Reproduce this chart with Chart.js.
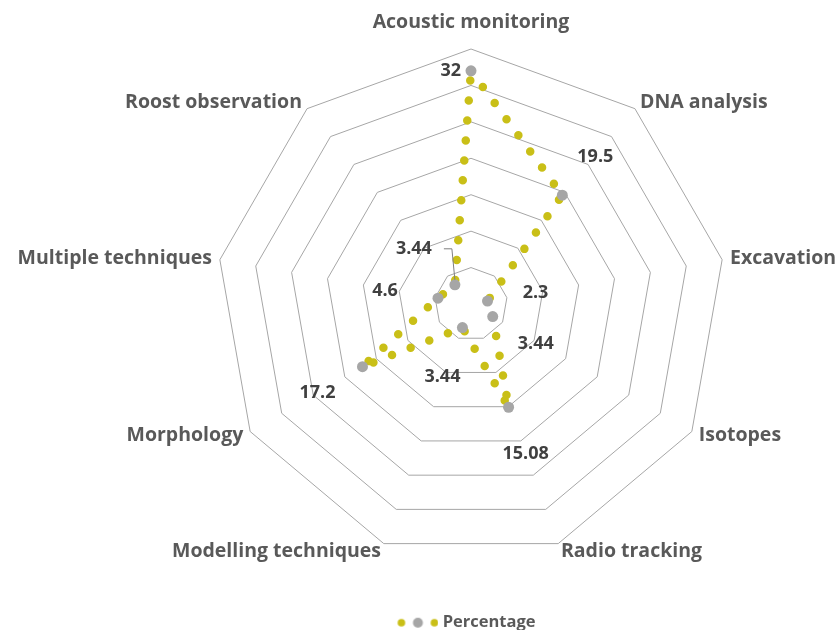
<!DOCTYPE html>
<html>
<head>
<meta charset="utf-8">
<script src="https://cdn.jsdelivr.net/npm/chart.js@4"></script>
<style>
  html, body { margin: 0; padding: 0; background: #fff; }
  #wrap { width: 839px; height: 630px; }
</style>
</head>
<body>
<div id="wrap"><canvas id="methodsChart"></canvas></div>
<script>
var categories = ['Acoustic monitoring', 'DNA analysis', 'Excavation', 'Isotopes', 'Radio tracking',
                  'Modelling techniques', 'Morphology', 'Multiple techniques', 'Roost observation'];
var percentage = [32, 19.5, 2.3, 3.44, 15.08, 3.44, 17.2, 4.6, 3.44];
var valueLabels = ['32', '19.5', '2.3', '3.44', '15.08', '3.44', '17.2', '4.6', '3.44'];

var lineColor = '#C9BF17';
var pointColor = '#A6A6A6';
var fontFamily = '"Open Sans", "Liberation Sans", sans-serif';

// radar placement (Excel puts the plot off-centre)
var radarCenter = { x: 471, y: 304 };
var radarRadius = 255;

// where each value label sits relative to its point
var labelOffsets = [[-10, 0], [33, -38], [48, -8], [43, 27], [17, 47], [-20, 49], [-45, 26], [-53, -7], [-41, -36]];

// legend marker: dot, grey dot, dot
var marker = document.createElement('canvas');
marker.width = 42; marker.height = 12;
var mctx = marker.getContext('2d');
[[5, lineColor, 3.8], [21.5, pointColor, 5], [38, lineColor, 3.8]].forEach(function (d) {
    mctx.fillStyle = d[1];
    mctx.beginPath();
    mctx.arc(d[0], 6, d[2], 0, Math.PI * 2);
    mctx.fill();
});

var radarPlacement = {
    id: 'radarPlacement',
    afterLayout: function (chart) {
        var r = chart.scales.r;
        r.xCenter = radarCenter.x;
        r.yCenter = radarCenter.y;
        r.drawingArea = radarRadius;
    }
};

var labelsPlugin = {
    id: 'labelsPlugin',
    afterDatasetsDraw: function (chart) {
        var ctx = chart.ctx;
        var scale = chart.scales.r;
        var meta = chart.getDatasetMeta(0);
        ctx.save();

        // category labels round the outside
        ctx.font = 'bold 19.5px ' + fontFamily;
        ctx.fillStyle = '#595959';
        ctx.textBaseline = 'middle';
        categories.forEach(function (name, i) {
            var p = scale.getPointPosition(i, scale.drawingArea + 8);
            if (i === 0) {
                ctx.textAlign = 'center';
                ctx.fillText(name, p.x, p.y - 19);
            } else {
                ctx.textAlign = i <= 4 ? 'left' : 'right';
                ctx.fillText(name, p.x, p.y);
            }
        });

        // value labels
        ctx.font = 'bold 18px ' + fontFamily;
        ctx.fillStyle = '#404040';
        meta.data.forEach(function (pt, i) {
            var off = labelOffsets[i];
            var tx = pt.x + off[0], ty = pt.y + off[1];
            ctx.textAlign = i === 0 ? 'right' : 'center';
            ctx.fillText(valueLabels[i], tx, ty);
            if (i === 8) {
                // leader line
                ctx.strokeStyle = '#7F7F7F';
                ctx.lineWidth = 1;
                ctx.beginPath();
                ctx.moveTo(tx + 30, ty);
                ctx.lineTo(tx + 38, ty);
                ctx.lineTo(pt.x, pt.y - 5);
                ctx.stroke();
            }
        });
        ctx.restore();
    }
};

var ctx = document.getElementById('methodsChart').getContext('2d');
var methodsChart = new Chart(ctx, {
    type: 'radar',
    data: {
        labels: categories,
        datasets: [{
            label: 'Percentage',
            data: percentage,
            borderColor: lineColor,
            borderWidth: 8.5,
            borderDash: [0, 20],
            borderCapStyle: 'round',
            backgroundColor: 'rgba(0,0,0,0)',
            fill: false,
            clip: false,
            pointRadius: 5.5,
            pointBackgroundColor: pointColor,
            pointBorderWidth: 0,
            pointHoverRadius: 5.5,
            tension: 0
        }]
    },
    options: {
        responsive: true,
        maintainAspectRatio: false,
        animation: false,
        layout: { padding: { left: 97, bottom: -11 } },
        scales: {
            r: {
                min: 0,
                max: 35,
                ticks: { display: false, stepSize: 5 },
                grid: { color: '#A6A6A6', lineWidth: 1 },
                angleLines: { display: false },
                pointLabels: { display: false }
            }
        },
        plugins: {
            legend: {
                position: 'bottom',
                labels: {
                    usePointStyle: true,
                    pointStyle: marker,
                    pointStyleWidth: 34,
                    padding: 1,
                    color: '#595959',
                    font: { family: fontFamily, size: 16.5, weight: 'bold' }
                }
            },
            tooltip: { enabled: false }
        }
    },
    plugins: [radarPlacement, labelsPlugin]
});
</script>
</body>
</html>
